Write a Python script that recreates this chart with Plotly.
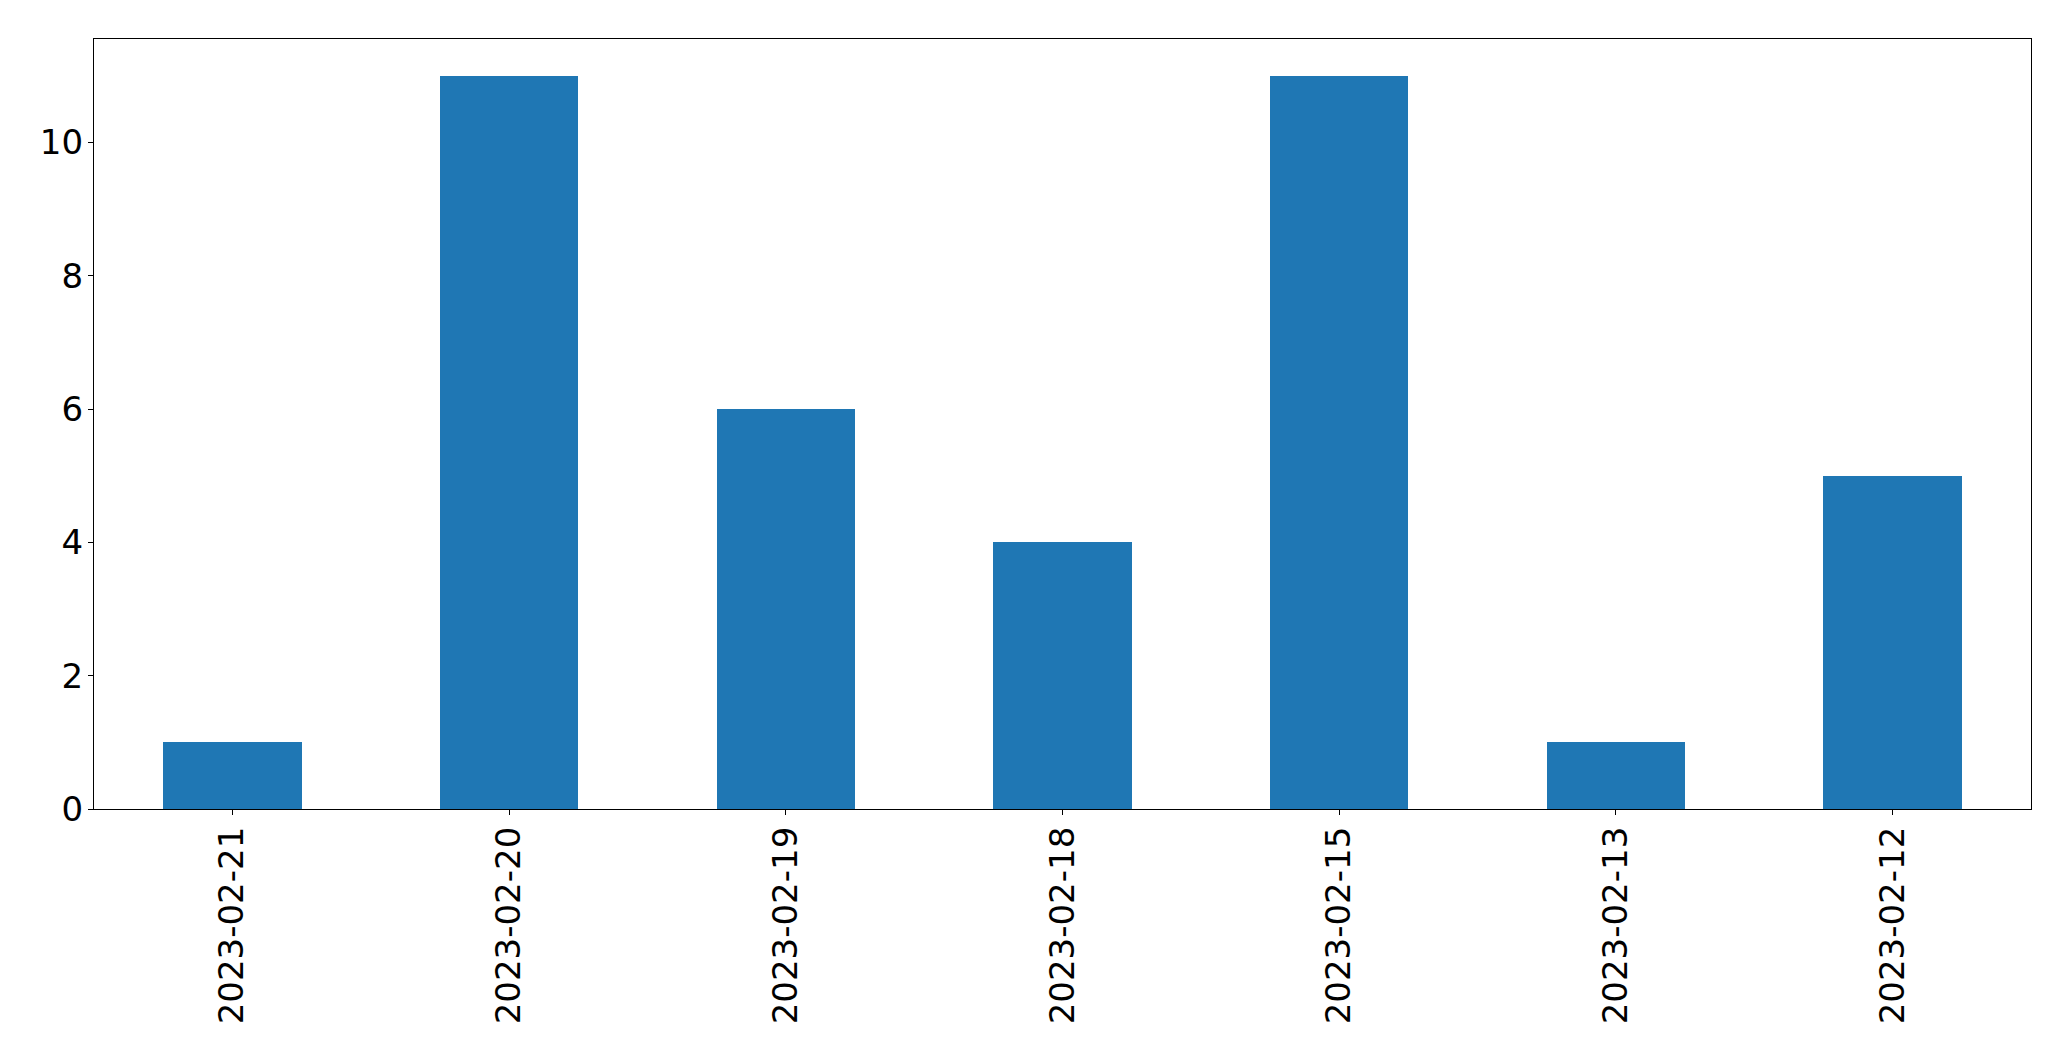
import plotly.graph_objects as go

categories = ["2023-02-21", "2023-02-20", "2023-02-19", "2023-02-18", "2023-02-15", "2023-02-13", "2023-02-12"]
values = [1, 11, 6, 4, 11, 1, 5]
y_ticks = [0, 2, 4, 6, 8, 10]

fig = go.Figure(go.Bar(x=categories, y=values, width=0.5, marker=dict(color="#1f77b4", line=dict(width=0))))

font = dict(family="DejaVu Sans", size=34, color="black")
fig.update_layout(
    width=2071, height=1061,
    margin=dict(l=86, r=48, t=31, b=260, pad=0),
    paper_bgcolor="white", plot_bgcolor="white",
    showlegend=False, bargap=0,
    font=font,
)
fig.update_xaxes(
    type="category", range=[-0.5, 6.5], tickangle=-90,
    showline=True, mirror=True, linecolor="black", linewidth=1.3,
    ticks="outside", ticklen=5, tickwidth=1.3, tickcolor="black",
    showgrid=False, zeroline=False, tickfont=font, ticklabelstandoff=-2,
)
fig.update_yaxes(
    range=[0, 11.55], tickvals=y_ticks,
    showline=True, mirror=True, linecolor="black", linewidth=1.3,
    ticks="outside", ticklen=5, tickwidth=1.3, tickcolor="black",
    showgrid=False, zeroline=False, tickfont=font, ticklabelstandoff=-2,
)
fig.write_html("out.html")
